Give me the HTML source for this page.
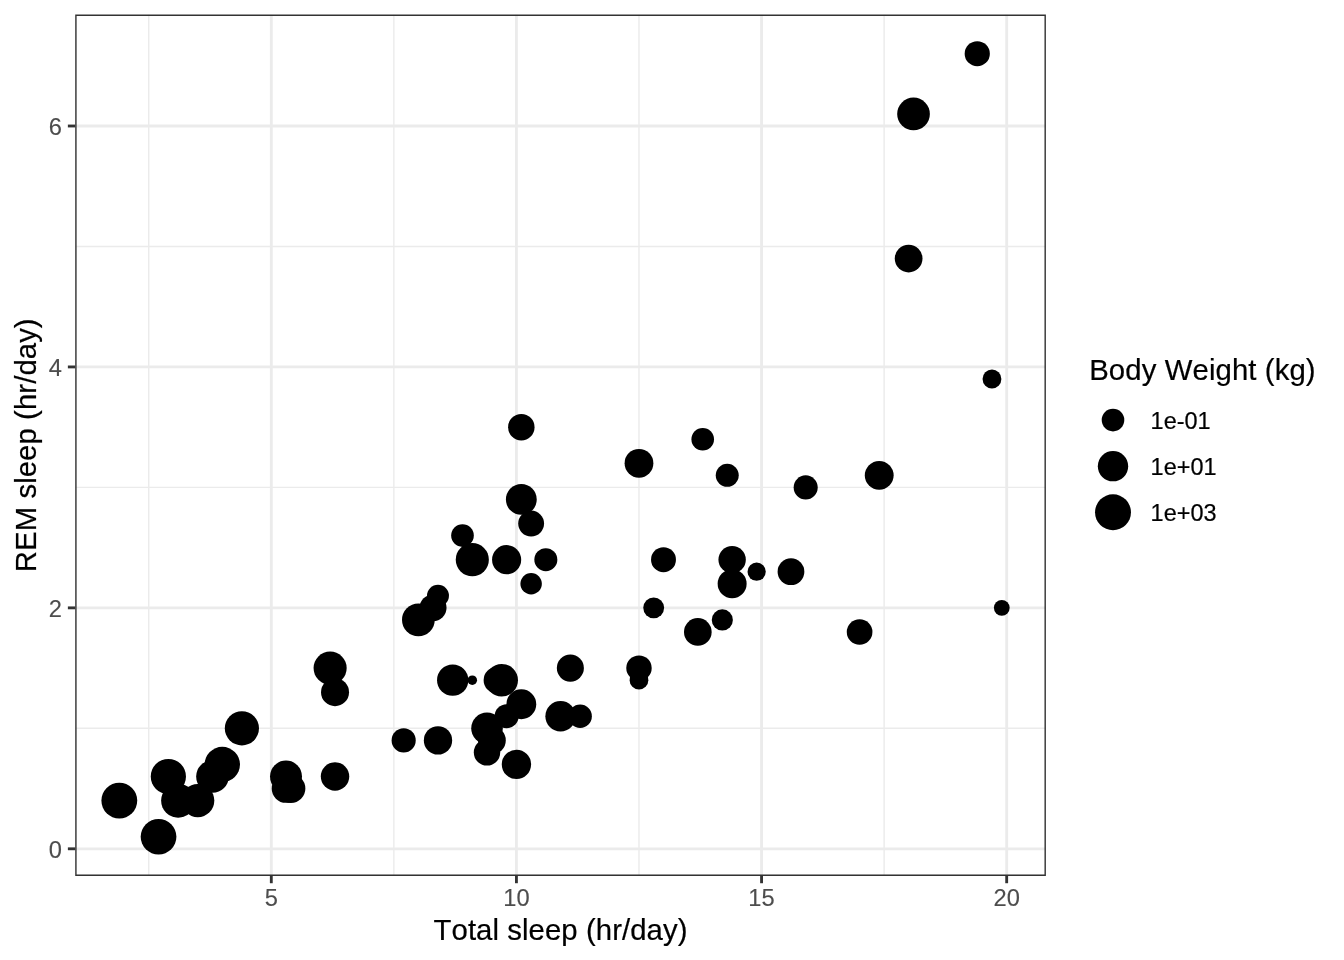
<!DOCTYPE html>
<html lang="en"><head><meta charset="utf-8"><title>REM sleep vs total sleep</title>
<style>
html,body{margin:0;padding:0;background:#fff;}
body{width:1344px;height:960px;overflow:hidden;}
svg{display:block;}
text{font-family:"Liberation Sans",Arial,Helvetica,sans-serif;font-kerning:none;}
.tk{font-size:23.7px;fill:#4d4d4d;stroke:#4d4d4d;stroke-width:0.12px;}
.tt{font-size:29.33px;fill:#000;stroke:#000;stroke-width:0.2px;}
.lg{font-size:23.47px;fill:#000;stroke:#000;stroke-width:0.2px;}
</style></head><body>
<svg width="1344" height="960" viewBox="0 0 1344 960">
<rect x="0" y="0" width="1344" height="960" fill="#ffffff"/>
<defs><clipPath id="pc"><rect x="75.20" y="14.57" width="970.70" height="861.33"/></clipPath></defs>
<g clip-path="url(#pc)">
<g stroke="#ebebeb" stroke-width="1.42" fill="none">
<line x1="148.74" x2="148.74" y1="14.57" y2="875.90"/>
<line x1="393.86" x2="393.86" y1="14.57" y2="875.90"/>
<line x1="638.99" x2="638.99" y1="14.57" y2="875.90"/>
<line x1="884.12" x2="884.12" y1="14.57" y2="875.90"/>
<line x1="75.20" x2="1045.90" y1="728.33" y2="728.33"/>
<line x1="75.20" x2="1045.90" y1="487.40" y2="487.40"/>
<line x1="75.20" x2="1045.90" y1="246.47" y2="246.47"/>
</g><g stroke="#ebebeb" stroke-width="2.85" fill="none">
<line x1="271.30" x2="271.30" y1="14.57" y2="875.90"/>
<line x1="516.43" x2="516.43" y1="14.57" y2="875.90"/>
<line x1="761.55" x2="761.55" y1="14.57" y2="875.90"/>
<line x1="1006.68" x2="1006.68" y1="14.57" y2="875.90"/>
<line x1="75.20" x2="1045.90" y1="848.80" y2="848.80"/>
<line x1="75.20" x2="1045.90" y1="607.86" y2="607.86"/>
<line x1="75.20" x2="1045.90" y1="366.93" y2="366.93"/>
<line x1="75.20" x2="1045.90" y1="126.00" y2="126.00"/>
</g><g fill="#000">
<circle cx="859.60" cy="631.96" r="12.83"/>
<circle cx="732.14" cy="559.68" r="13.70"/>
<circle cx="756.65" cy="571.72" r="9.11"/>
<circle cx="222.28" cy="764.47" r="17.69"/>
<circle cx="732.14" cy="583.77" r="14.50"/>
<circle cx="452.69" cy="680.14" r="15.66"/>
<circle cx="521.33" cy="499.44" r="15.41"/>
<circle cx="286.01" cy="776.52" r="15.98"/>
<circle cx="487.01" cy="752.42" r="13.19"/>
<circle cx="516.43" cy="764.47" r="14.65"/>
<circle cx="638.99" cy="668.10" r="12.71"/>
<circle cx="531.13" cy="583.77" r="10.71"/>
<circle cx="433.08" cy="607.86" r="13.45"/>
<circle cx="472.30" cy="680.14" r="4.74"/>
<circle cx="879.21" cy="475.35" r="14.43"/>
<circle cx="286.01" cy="788.56" r="14.30"/>
<circle cx="908.63" cy="258.51" r="13.88"/>
<circle cx="991.97" cy="378.98" r="9.41"/>
<circle cx="168.35" cy="776.52" r="17.61"/>
<circle cx="178.15" cy="800.61" r="17.03"/>
<circle cx="521.33" cy="427.17" r="13.24"/>
<circle cx="560.55" cy="716.28" r="15.18"/>
<circle cx="638.99" cy="463.30" r="14.39"/>
<circle cx="506.62" cy="716.28" r="12.01"/>
<circle cx="119.32" cy="800.61" r="17.91"/>
<circle cx="158.54" cy="836.75" r="17.85"/>
<circle cx="330.13" cy="668.10" r="16.56"/>
<circle cx="335.03" cy="776.52" r="14.22"/>
<circle cx="418.38" cy="619.91" r="16.36"/>
<circle cx="491.91" cy="740.38" r="13.87"/>
<circle cx="977.26" cy="53.72" r="12.59"/>
<circle cx="521.33" cy="704.24" r="14.91"/>
<circle cx="722.33" cy="619.91" r="10.56"/>
<circle cx="727.24" cy="475.35" r="11.49"/>
<circle cx="638.99" cy="680.14" r="9.35"/>
<circle cx="1001.78" cy="607.86" r="7.89"/>
<circle cx="403.67" cy="740.38" r="12.06"/>
<circle cx="437.99" cy="740.38" r="14.18"/>
<circle cx="212.47" cy="776.52" r="16.30"/>
<circle cx="501.72" cy="680.14" r="16.26"/>
<circle cx="487.01" cy="728.33" r="15.80"/>
<circle cx="531.13" cy="523.54" r="12.95"/>
<circle cx="697.82" cy="631.96" r="13.84"/>
<circle cx="197.76" cy="800.61" r="16.56"/>
<circle cx="570.36" cy="668.10" r="13.53"/>
<circle cx="913.53" cy="113.95" r="16.34"/>
<circle cx="290.91" cy="788.56" r="14.45"/>
<circle cx="663.50" cy="559.68" r="12.46"/>
<circle cx="496.82" cy="680.14" r="13.21"/>
<circle cx="437.99" cy="595.82" r="10.97"/>
<circle cx="580.16" cy="716.28" r="11.71"/>
<circle cx="545.84" cy="559.68" r="11.51"/>
<circle cx="702.72" cy="439.21" r="11.30"/>
<circle cx="805.68" cy="487.40" r="12.03"/>
<circle cx="653.70" cy="607.86" r="10.43"/>
<circle cx="472.30" cy="559.68" r="16.57"/>
<circle cx="241.89" cy="728.33" r="17.09"/>
<circle cx="790.97" cy="571.72" r="13.37"/>
<circle cx="462.50" cy="535.58" r="11.33"/>
<circle cx="335.03" cy="692.19" r="14.01"/>
<circle cx="506.62" cy="559.68" r="14.57"/>
</g>
<rect x="75.20" y="14.57" width="970.70" height="861.33" fill="none" stroke="#333333" stroke-width="2.85"/>
</g>
<g stroke="#333333" stroke-width="2.85" fill="none">
<line x1="271.30" x2="271.30" y1="875.90" y2="883.23"/>
<line x1="516.43" x2="516.43" y1="875.90" y2="883.23"/>
<line x1="761.55" x2="761.55" y1="875.90" y2="883.23"/>
<line x1="1006.68" x2="1006.68" y1="875.90" y2="883.23"/>
<line x1="67.87" x2="75.20" y1="848.80" y2="848.80"/>
<line x1="67.87" x2="75.20" y1="607.86" y2="607.86"/>
<line x1="67.87" x2="75.20" y1="366.93" y2="366.93"/>
<line x1="67.87" x2="75.20" y1="126.00" y2="126.00"/>
</g>
<text class="tk" x="271.30" y="906.2" text-anchor="middle">5</text>
<text class="tk" x="516.43" y="906.2" text-anchor="middle">10</text>
<text class="tk" x="761.55" y="906.2" text-anchor="middle">15</text>
<text class="tk" x="1006.68" y="906.2" text-anchor="middle">20</text>
<text class="tk" x="62.0" y="858.00" text-anchor="end">0</text>
<text class="tk" x="62.0" y="617.06" text-anchor="end">2</text>
<text class="tk" x="62.0" y="376.13" text-anchor="end">4</text>
<text class="tk" x="62.0" y="135.20" text-anchor="end">6</text>
<text class="tt" x="560.55" y="939.7" text-anchor="middle" letter-spacing="0.07">Total sleep (hr/day)</text>
<text class="tt" transform="translate(35.9,445.24) rotate(-90)" text-anchor="middle" letter-spacing="0.07">REM sleep (hr/day)</text>
<text class="tt" x="1089.2" y="379.8" letter-spacing="0.1">Body Weight (kg)</text>
<circle cx="1113" cy="420.10" r="11.29" fill="#000"/>
<text class="lg" x="1150.6" y="428.70">1e-01</text>
<circle cx="1113" cy="466.18" r="15.18" fill="#000"/>
<text class="lg" x="1150.6" y="474.78">1e+01</text>
<circle cx="1113" cy="512.26" r="17.97" fill="#000"/>
<text class="lg" x="1150.6" y="520.86">1e+03</text>
</svg></body></html>
